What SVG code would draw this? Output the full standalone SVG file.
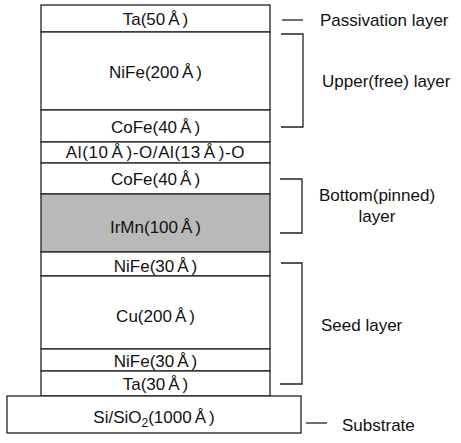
<svg xmlns="http://www.w3.org/2000/svg" width="461" height="443" viewBox="0 0 461 443">
<style>
.layer{fill:#fff;stroke:#222;stroke-width:1.3}
.shade{fill:#b9b9b9;stroke:#222;stroke-width:1.3}
.t{font-family:"Liberation Sans",Arial,sans-serif;font-size:17px;fill:#111;text-anchor:middle}
.lbl{font-family:"Liberation Sans",Arial,sans-serif;font-size:17px;fill:#111}
.con{fill:none;stroke:#222;stroke-width:1.3}
</style>
<rect width="461" height="443" fill="#fff"/>
<g id="ta50"><rect class="layer" x="41" y="5" width="229" height="27"/><text class="t" x="155.5" y="24.5">Ta(50<tspan dx="3">Å</tspan><tspan dx="3">)</tspan></text></g>
<g id="nife200"><rect class="layer" x="41" y="32" width="229" height="78"/><text class="t" x="155.5" y="78">NiFe(200<tspan dx="3">Å</tspan><tspan dx="3">)</tspan></text></g>
<g id="cofe40top"><rect class="layer" x="41" y="110" width="229" height="32"/><text class="t" x="155.5" y="133">CoFe(40<tspan dx="3">Å</tspan><tspan dx="3">)</tspan></text></g>
<g id="alox"><rect class="layer" x="41" y="142" width="229" height="21"/><text class="t" x="155.5" y="158" letter-spacing="0.6">Al(10<tspan dx="3">Å</tspan><tspan dx="3">)-O/Al(13</tspan><tspan dx="3">Å</tspan><tspan dx="3">)-O</tspan></text></g>
<g id="cofe40bot"><rect class="layer" x="41" y="163" width="229" height="31"/><text class="t" x="155.5" y="185">CoFe(40<tspan dx="3">Å</tspan><tspan dx="3">)</tspan></text></g>
<g id="irmn"><rect class="shade" x="41" y="194" width="229" height="58"/><text class="t" x="155.5" y="233">IrMn(100<tspan dx="3">Å</tspan><tspan dx="3">)</tspan></text></g>
<g id="nife30top"><rect class="layer" x="41" y="252" width="229" height="24"/><text class="t" x="155.5" y="271.5">NiFe(30<tspan dx="3">Å</tspan><tspan dx="3">)</tspan></text></g>
<g id="cu200"><rect class="layer" x="41" y="276" width="229" height="73"/><text class="t" x="155.5" y="321.5">Cu(200<tspan dx="3">Å</tspan><tspan dx="3">)</tspan></text></g>
<g id="nife30bot"><rect class="layer" x="41" y="349" width="229" height="22"/><text class="t" x="155.5" y="367">NiFe(30<tspan dx="3">Å</tspan><tspan dx="3">)</tspan></text></g>
<g id="ta30"><rect class="layer" x="41" y="371" width="229" height="25"/><text class="t" x="155.5" y="390">Ta(30<tspan dx="3">Å</tspan><tspan dx="3">)</tspan></text></g>
<g id="substrate"><rect class="layer" x="7" y="396" width="294" height="37"/><text class="t" x="154" y="423">Si/SiO<tspan font-size="12" dy="4">2</tspan><tspan dy="-4">(1000</tspan><tspan dx="3">Å</tspan><tspan dx="3">)</tspan></text></g>
<g id="connectors">
<path class="con" d="M282 20H303"/>
<path class="con" d="M281 34H303V127H281"/>
<path class="con" d="M280 179H302V233H280"/>
<path class="con" d="M281 263H302V384H280"/>
<path class="con" d="M306 423H327"/>
</g>
<g id="labels">
<text class="lbl" x="320" y="25.5">Passivation layer</text>
<text class="lbl" x="322" y="87">Upper(free) layer</text>
<text class="lbl" x="377" y="201" text-anchor="middle">Bottom(pinned)</text>
<text class="lbl" x="377" y="222" text-anchor="middle">layer</text>
<text class="lbl" x="321" y="331">Seed layer</text>
<text class="lbl" x="342" y="430.5">Substrate</text>
</g>
</svg>
